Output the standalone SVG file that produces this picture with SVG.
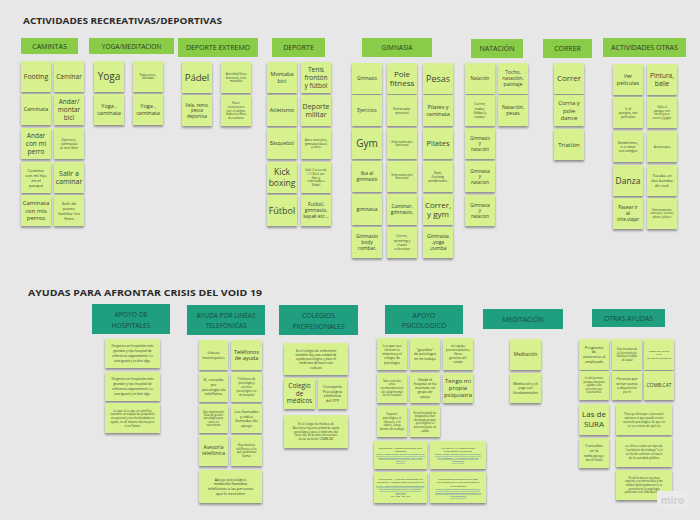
<svg xmlns="http://www.w3.org/2000/svg" width="700" height="520" viewBox="0 0 700 520">
<defs>
<filter id="sh" x="-20%" y="-20%" width="140%" height="150%">
<feDropShadow dx="0" dy="1.8" stdDeviation="1" flood-color="#2a2a2a" flood-opacity="0.5"/>
</filter>
<style>
text{font-family:"Open Sans","Liberation Sans",sans-serif;text-anchor:middle;fill:#3b4333}
.n{fill:#d6f18d;filter:url(#sh)}
.h{fill:#88cc48}
.t{fill:#1f9e80}
.ht{font-size:7px;fill:#2c3a22}
.tt{font-size:6.8px;fill:#164c3e}
.ti{font-size:9.5px;font-weight:700;text-anchor:start;fill:#2b2b2b}
.lk{fill:#2b5fb4;text-decoration:underline}
</style>
</defs>
<rect width="700" height="520" fill="#e7e7e7"/>

<!-- section titles -->
<text class="ti" x="23" y="24" textLength="199" lengthAdjust="spacingAndGlyphs">ACTIVIDADES RECREATIVAS/DEPORTIVAS</text>
<text class="ti" x="28" y="296" textLength="234" lengthAdjust="spacingAndGlyphs">AYUDAS PARA AFRONTAR CRISIS DEL VOID 19</text>

<!-- green category headers -->
<g id="h-camintas"><rect class="h" x="21" y="38" width="57" height="16"/><text class="ht" x="49.5" y="48.5" font-size="6.5">CAMINTAS</text></g>
<g id="h-yoga"><rect class="h" x="89" y="38" width="85" height="16"/><text class="ht" x="131.5" y="48.5" style="font-size:6.5px">YOGA/MEDITACION</text></g>
<g id="h-extremo"><rect class="h" x="178" y="38" width="80" height="19"/><text class="ht" x="218" y="50">DEPORTE EXTREMO</text></g>
<g id="h-deporte"><rect class="h" x="272" y="38" width="53" height="19"/><text class="ht" x="298.5" y="50">DEPORTE</text></g>
<g id="h-gimnasia"><rect class="h" x="362" y="38" width="70" height="19"/><text class="ht" x="397" y="50" style="font-size:6.5px">GIMNASIA</text></g>
<g id="h-natacion"><rect class="h" x="471" y="39" width="52" height="19"/><text class="ht" x="497" y="51">NATACIÓN</text></g>
<g id="h-correr"><rect class="h" x="543" y="39" width="49" height="19"/><text class="ht" x="567.5" y="51">CORRER</text></g>
<g id="h-otras"><rect class="h" x="603" y="38" width="83" height="19"/><text class="ht" x="644.5" y="50">ACTIVIDADES OTRAS</text></g>

<!-- Caminatas -->
<g id="cam-footing" transform="translate(21,61)"><rect class="n" width="30" height="31"/><text x="15" y="18" font-size="7">Footing</text></g>
<g id="cam-caminar" transform="translate(54,61)"><rect class="n" width="30" height="31"/><text x="15" y="17.8" font-size="6.5">Caminar</text></g>
<g id="cam-caminata" transform="translate(21,94)"><rect class="n" width="30" height="31"/><text x="15" y="17.4" font-size="5.5">Caminata</text></g>
<g id="cam-bici" transform="translate(54,94)"><rect class="n" width="30" height="31"/><text x="15" y="10" font-size="6.5">Andar/<tspan x="15" dy="7.8">montar</tspan><tspan x="15" dy="7.8">bici</tspan></text></g>
<g id="cam-perro" transform="translate(21,128)"><rect class="n" width="30" height="31"/><text x="15" y="10" font-size="6.5">Andar<tspan x="15" dy="7.8">con mi</tspan><tspan x="15" dy="7.8">perro</tspan></text></g>
<g id="cam-ejercicio" transform="translate(54,128)"><rect class="n" width="30" height="31"/><text x="15" y="12.5" font-size="3.5">Ejercicio,<tspan x="15" dy="4.2">caminatas</tspan><tspan x="15" dy="4.2">al aire libre</tspan></text></g>
<g id="cam-hijo" transform="translate(21,162)"><rect class="n" width="30" height="31"/><text x="15" y="9.5" font-size="4.2">Caminar<tspan x="15" dy="5">con mi hijo</tspan><tspan x="15" dy="5">en el</tspan><tspan x="15" dy="5">parque</tspan></text></g>
<g id="cam-salir" transform="translate(54,162)"><rect class="n" width="30" height="31"/><text x="15" y="13.75" font-size="7">Salir a<tspan x="15" dy="8.4">caminar</tspan></text></g>
<g id="cam-perros" transform="translate(21,195)"><rect class="n" width="30" height="31"/><text x="15" y="10.4" font-size="6">Caminata<tspan x="15" dy="7.2">con mis</tspan><tspan x="15" dy="7.2">perros</tspan></text></g>
<g id="cam-paseo" transform="translate(54,195)"><rect class="n" width="30" height="31"/><text x="15" y="9.5" font-size="4.2">Salir de<tspan x="15" dy="5">paseo</tspan><tspan x="15" dy="5">familiar los</tspan><tspan x="15" dy="5">fines</tspan></text></g>

<!-- Yoga / meditación -->
<g id="yoga-1" transform="translate(94,61)"><rect class="n" width="30" height="31"/><text x="15" y="19" font-size="10">Yoga</text></g>
<g id="yoga-2" transform="translate(133,61)"><rect class="n" width="30" height="31"/><text x="15" y="14.7" font-size="3">Yoga,correr,<tspan x="15" dy="3.6">escalada</tspan></text></g>
<g id="yoga-3" transform="translate(94,94)"><rect class="n" width="30" height="31"/><text x="15" y="14.1" font-size="5.5">Yoga ,<tspan x="15" dy="6.6">caminata</tspan></text></g>
<g id="yoga-4" transform="translate(133,94)"><rect class="n" width="30" height="31"/><text x="15" y="14.1" font-size="5.5">Yoga ,<tspan x="15" dy="6.6">caminata</tspan></text></g>

<!-- Deporte extremo -->
<g id="ext-padel" transform="translate(182,62)"><rect class="n" width="30" height="31"/><text x="15" y="18.8" font-size="9.5">Pádel</text></g>
<g id="ext-funcional" transform="translate(221,62)"><rect class="n" width="30" height="31"/><text x="15" y="12.9" font-size="3">Actividad física<tspan x="15" dy="3.6">funcional, ciclo</tspan><tspan x="15" dy="3.6">montaña</tspan></text></g>
<g id="ext-vela" transform="translate(182,95)"><rect class="n" width="30" height="31"/><text x="15" y="11.7" font-size="4.5">Vela, remo,<tspan x="15" dy="5.4">pesca</tspan><tspan x="15" dy="5.4">deportiva</tspan></text></g>
<g id="ext-excursiones" transform="translate(221,95)"><rect class="n" width="30" height="31"/><text x="15" y="9.3" font-size="3">Hacer<tspan x="15" dy="3.6">excursiones</tspan><tspan x="15" dy="3.6">por el campo</tspan><tspan x="15" dy="3.6">todos los fines</tspan><tspan x="15" dy="3.6">de semana</tspan></text></g>

<!-- Deporte -->
<g id="dep-bici" transform="translate(267,62)"><rect class="n" width="30" height="31"/><text x="15" y="14.1" font-size="5.5">Montaba<tspan x="15" dy="6.6">bici</tspan></text></g>
<g id="dep-tenis" transform="translate(301,62)"><rect class="n" width="30" height="31"/><text x="15" y="10" font-size="6.5">Tenis<tspan x="15" dy="7.8">frontón</tspan><tspan x="15" dy="7.8">y fútbol</tspan></text></g>
<g id="dep-atletismo" transform="translate(267,95)"><rect class="n" width="30" height="31"/><text x="15" y="17.4" font-size="5.5">Atletismo</text></g>
<g id="dep-militar" transform="translate(301,95)"><rect class="n" width="30" height="31"/><text x="15" y="13.75" font-size="7">Deporte<tspan x="15" dy="8.4">militar</tspan></text></g>
<g id="dep-basquet" transform="translate(267,128)"><rect class="n" width="30" height="31"/><text x="15" y="17.1" font-size="4.5">Básquetbol</text></g>
<g id="dep-artes" transform="translate(301,128)"><rect class="n" width="30" height="31"/><text x="15" y="12.9" font-size="3">Artes marciales,<tspan x="15" dy="3.6">gimnasio/clases</tspan><tspan x="15" dy="3.6">y otros</tspan></text></g>
<g id="dep-kick" transform="translate(267,162)"><rect class="n" width="30" height="31"/><text x="15" y="13.4" font-size="8.5">Kick<tspan x="15" dy="10.2">boxing</tspan></text></g>
<g id="dep-salir" transform="translate(301,162)"><rect class="n" width="30" height="31"/><text x="15" y="9.3" font-size="3">Salir 2 veces de<tspan x="15" dy="3.6">1-1:30 al aire</tspan><tspan x="15" dy="3.6">libre y</tspan><tspan x="15" dy="3.6">entrenaba a</tspan><tspan x="15" dy="3.6">fútbol</tspan></text></g>
<g id="dep-futbol" transform="translate(267,195)"><rect class="n" width="30" height="31"/><text x="15" y="18.7" font-size="9">Fútbol</text></g>
<g id="dep-kayak" transform="translate(301,195)"><rect class="n" width="30" height="31"/><text x="15" y="11.25" font-size="5">Futbol,<tspan x="15" dy="6">gimnasio,</tspan><tspan x="15" dy="6">kayak etc...</tspan></text></g>

<!-- Gimnasia -->
<g id="gim-gimnasio" transform="translate(352,63)"><rect class="n" width="30" height="31"/><text x="15" y="17.1" font-size="4.5">Gimnasio</text></g>
<g id="gim-pole" transform="translate(387,63)"><rect class="n" width="30" height="31"/><text x="15" y="13.5" font-size="8">Pole<tspan x="15" dy="9.6">fitness</tspan></text></g>
<g id="gim-pesas" transform="translate(423,63)"><rect class="n" width="30" height="31"/><text x="15" y="18.7" font-size="9">Pesas</text></g>
<g id="gim-ejercicios" transform="translate(352,95)"><rect class="n" width="30" height="31"/><text x="15" y="17.1" font-size="4.5">Ejercicios</text></g>
<g id="gim-entrenador" transform="translate(387,95)"><rect class="n" width="30" height="31"/><text x="15" y="14.7" font-size="3.3">Entrenador<tspan x="15" dy="4">personal</tspan></text></g>
<g id="gim-pilates-cam" transform="translate(423,95)"><rect class="n" width="30" height="31"/><text x="15" y="14.1" font-size="5.5">Pilates y<tspan x="15" dy="6.6">caminata</tspan></text></g>
<g id="gim-gym" transform="translate(352,128)"><rect class="n" width="30" height="31"/><text x="15" y="19" font-size="10">Gym</text></g>
<g id="gim-funcional-1" transform="translate(387,128)"><rect class="n" width="30" height="31"/><text x="15" y="14.7" font-size="3">Entrenamiento<tspan x="15" dy="3.6">funcional</tspan></text></g>
<g id="gim-pilates" transform="translate(423,128)"><rect class="n" width="30" height="31"/><text x="15" y="18.1" font-size="7.5">Pilates</text></g>
<g id="gim-iba" transform="translate(352,161)"><rect class="n" width="30" height="31"/><text x="15" y="14.25" font-size="5">Iba al<tspan x="15" dy="6">gimnasio</tspan></text></g>
<g id="gim-funcional-2" transform="translate(387,161)"><rect class="n" width="30" height="31"/><text x="15" y="14.7" font-size="3">Entrenamiento<tspan x="15" dy="3.6">funcional</tspan></text></g>
<g id="gim-footing" transform="translate(423,161)"><rect class="n" width="30" height="31"/><text x="15" y="12.5" font-size="3.5">Gym,<tspan x="15" dy="4.2">Footing,</tspan><tspan x="15" dy="4.2">senderismo.</tspan></text></g>
<g id="gim-gimnasia" transform="translate(352,194)"><rect class="n" width="30" height="31"/><text x="15" y="17.25" font-size="5">gimnasia</text></g>
<g id="gim-caminar" transform="translate(387,194)"><rect class="n" width="30" height="31"/><text x="15" y="14.25" font-size="5">Caminar,<tspan x="15" dy="6">gimnasio.</tspan></text></g>
<g id="gim-correr" transform="translate(423,194)"><rect class="n" width="30" height="31"/><text x="15" y="13.5" font-size="8">Correr,<tspan x="15" dy="9.6">y gym</tspan></text></g>
<g id="gim-combat" transform="translate(352,227)"><rect class="n" width="30" height="31"/><text x="15" y="11.25" font-size="5">Gimnasio<tspan x="15" dy="6">body</tspan><tspan x="15" dy="6">combat.</tspan></text></g>
<g id="gim-spinning" transform="translate(387,227)"><rect class="n" width="30" height="31"/><text x="15" y="10.4" font-size="3.5">Correr,<tspan x="15" dy="4.2">spinning y</tspan><tspan x="15" dy="4.2">clases</tspan><tspan x="15" dy="4.2">colectivas</tspan></text></g>
<g id="gim-zumba" transform="translate(423,227)"><rect class="n" width="30" height="31"/><text x="15" y="11.25" font-size="5">Gimnasia<tspan x="15" dy="6">,yoga</tspan><tspan x="15" dy="6">,zumba</tspan></text></g>

<!-- Natación -->
<g id="nat-natacion" transform="translate(465,63)"><rect class="n" width="30" height="31"/><text x="15" y="17.1" font-size="4.5">Natación</text></g>
<g id="nat-tocho" transform="translate(498,63)"><rect class="n" width="30" height="31"/><text x="15" y="11.25" font-size="5">Tocho,<tspan x="15" dy="6">natación,</tspan><tspan x="15" dy="6">patinaje</tspan></text></g>
<g id="nat-nadar" transform="translate(465,95)"><rect class="n" width="30" height="31"/><text x="15" y="10.4" font-size="3.5">Correr,<tspan x="15" dy="4.2">nadar,</tspan><tspan x="15" dy="4.2">fútbol y</tspan><tspan x="15" dy="4.2">cantar.</tspan></text></g>
<g id="nat-pesas" transform="translate(498,95)"><rect class="n" width="30" height="31"/><text x="15" y="14.25" font-size="5">Natación,<tspan x="15" dy="6">pesas</tspan></text></g>
<g id="nat-gim-1" transform="translate(465,128)"><rect class="n" width="30" height="31"/><text x="15" y="11.7" font-size="4.5">Gimnasio<tspan x="15" dy="5.4">y</tspan><tspan x="15" dy="5.4">natación</tspan></text></g>
<g id="nat-gim-2" transform="translate(465,161)"><rect class="n" width="30" height="31"/><text x="15" y="11.7" font-size="4.5">Gimnasia<tspan x="15" dy="5.4">y</tspan><tspan x="15" dy="5.4">natacion</tspan></text></g>
<g id="nat-gim-3" transform="translate(465,195)"><rect class="n" width="30" height="31"/><text x="15" y="11.7" font-size="4.5">Gimnasia<tspan x="15" dy="5.4">y</tspan><tspan x="15" dy="5.4">natacion</tspan></text></g>

<!-- Correr -->
<g id="cor-correr" transform="translate(554,63)"><rect class="n" width="30" height="31"/><text x="15" y="18.3" font-size="8">Correr</text></g>
<g id="cor-pole" transform="translate(554,95)"><rect class="n" width="30" height="31"/><text x="15" y="10.4" font-size="6">Corria y<tspan x="15" dy="7.2">pole</tspan><tspan x="15" dy="7.2">dance</tspan></text></g>
<g id="cor-triatlon" transform="translate(554,129)"><rect class="n" width="30" height="31"/><text x="15" y="17.6" font-size="6">Triatlón</text></g>

<!-- Actividades otras -->
<g id="otr-peliculas" transform="translate(613,64)"><rect class="n" width="30" height="31"/><text x="15" y="14.1" font-size="5.5">Ver<tspan x="15" dy="6.6">películas</tspan></text></g>
<g id="otr-pintura" transform="translate(647,64)"><rect class="n" width="30" height="31"/><text x="15" y="13.9" font-size="6.5">Pintura,<tspan x="15" dy="7.8">baile</tspan></text></g>
<g id="otr-parque" transform="translate(613,97)"><rect class="n" width="30" height="31"/><text x="15" y="12.5" font-size="3.5">Ir al<tspan x="15" dy="4.2">parque, ver</tspan><tspan x="15" dy="4.2">películas</tspan></text></g>
<g id="otr-hijos" transform="translate(647,97)"><rect class="n" width="30" height="31"/><text x="15" y="11.1" font-size="3">Salía al<tspan x="15" dy="3.6">parque con</tspan><tspan x="15" dy="3.6">mis hijos a</tspan><tspan x="15" dy="3.6">correr y jugar</tspan></text></g>
<g id="otr-senderismo" transform="translate(613,131)"><rect class="n" width="30" height="31"/><text x="15" y="12.5" font-size="3.5">Senderismo,<tspan x="15" dy="4.2">ir a cenar</tspan><tspan x="15" dy="4.2">con amigos</tspan></text></g>
<g id="otr-acro" transform="translate(647,131)"><rect class="n" width="30" height="31"/><text x="15" y="16.5" font-size="3">Acroterapia</text></g>
<g id="otr-danza" transform="translate(613,165)"><rect class="n" width="30" height="31"/><text x="15" y="18.5" font-size="8.5">Danza</text></g>
<g id="otr-rock" transform="translate(647,165)"><rect class="n" width="30" height="31"/><text x="15" y="12.1" font-size="4">Tocaba en<tspan x="15" dy="4.8">dos bandas</tspan><tspan x="15" dy="4.8">de rock</tspan></text></g>
<g id="otr-pasear" transform="translate(613,198)"><rect class="n" width="30" height="31"/><text x="15" y="11.4" font-size="4.8">Pasear ir<tspan x="15" dy="5.8">al</tspan><tspan x="15" dy="5.8">cine,viajar</tspan></text></g>
<g id="otr-entreno" transform="translate(647,198)"><rect class="n" width="30" height="31"/><text x="15" y="13" font-size="2.8">Entrenamiento<tspan x="15" dy="3.4">semi-pro, servicio,</tspan><tspan x="15" dy="3.4">planes, pilates</tspan></text></g>

<!-- teal category headers -->
<g id="h-hospitales"><rect class="t" x="92" y="304" width="78" height="30"/><text class="tt" x="131" y="317">APOYO DE<tspan x="131" dy="10.5">HOSPITALES</tspan></text></g>
<g id="h-telefonicas"><rect class="t" x="187" y="305" width="78" height="30"/><text class="tt" x="226" y="318" style="font-size:6.5px">AYUDA POR LINEAS<tspan x="226" dy="10">TELEFONICAS</tspan></text></g>
<g id="h-colegios"><rect class="t" x="279" y="305" width="79" height="30"/><text class="tt" x="318.5" y="318">COLEGIOS<tspan x="318.5" dy="10.5">PROFESIONALES</tspan></text></g>
<g id="h-psicologico"><rect class="t" x="385" y="305" width="78" height="29"/><text class="tt" x="424" y="317.5">APOYO<tspan x="424" dy="10.5">PSICOLOGICO</tspan></text></g>
<g id="h-meditacion"><rect class="t" x="483" y="309" width="80" height="20"/><text class="tt" x="523" y="321.5">MEDITACIÓN</text></g>
<g id="h-otras-ayudas"><rect class="t" x="592" y="309" width="73" height="18"/><text class="tt" x="628.5" y="320.5">OTRAS AYUDAS</text></g>

<!-- Apoyo de hospitales -->
<g id="hos-1" transform="translate(105,339)"><rect class="n" width="55" height="29"/><text x="27.5" y="8.4" font-size="3.2">De gestos en hospitales más<tspan x="27.5" dy="4.8">grandes y tipo hospital de</tspan><tspan x="27.5" dy="4.8">referencia seguramente. Lo</tspan><tspan x="27.5" dy="4.8">averiguaré y te diré algo.</tspan></text></g>
<g id="hos-2" transform="translate(105,372)"><rect class="n" width="55" height="29"/><text x="27.5" y="8.4" font-size="3.2">De gestos en hospitales más<tspan x="27.5" dy="4.8">grandes y tipo hospital de</tspan><tspan x="27.5" dy="4.8">referencia seguramente. Lo</tspan><tspan x="27.5" dy="4.8">averiguaré y te diré algo.</tspan></text></g>
<g id="hos-3" transform="translate(105,403)"><rect class="n" width="55" height="30"/><text x="27.5" y="8.5" font-size="2.8">Lo que sé es que en sant Pau<tspan x="27.5" dy="3.8">tenemos un equipo de psiquiatría</tspan><tspan x="27.5" dy="3.8">excepcional y nos ha brindado su</tspan><tspan x="27.5" dy="3.8">ayuda, no de manera directa pero</tspan><tspan x="27.5" dy="3.8">sí en Twitter</tspan></text></g>

<!-- Ayuda por líneas telefónicas -->
<g id="tel-municipales" transform="translate(199,340)"><rect class="n" width="29" height="30"/><text x="14.5" y="14" font-size="4">Líneas<tspan x="14.5" dy="4.8">municipales</tspan></text></g>
<g id="tel-ayuda" transform="translate(231,340)"><rect class="n" width="31" height="30"/><text x="15.5" y="13.6" font-size="5.5">Teléfonos<tspan x="15.5" dy="6.6">de ayuda</tspan></text></g>
<g id="tel-consulta" transform="translate(199,372)"><rect class="n" width="29" height="30"/><text x="14.5" y="9.4" font-size="3.8">Si, consulta<tspan x="14.5" dy="4.6">por</tspan><tspan x="14.5" dy="4.6">psicología vía</tspan><tspan x="14.5" dy="4.6">telefónica</tspan></text></g>
<g id="tel-hospital" transform="translate(231,372)"><rect class="n" width="31" height="30"/><text x="15.5" y="8.4" font-size="3">Teléfonos de<tspan x="15.5" dy="3.8">psicología y</tspan><tspan x="15.5" dy="3.8">servicio</tspan><tspan x="15.5" dy="3.8">psicológico en</tspan><tspan x="15.5" dy="3.8">mi hospital</tspan></text></g>
<g id="tel-cuarentena" transform="translate(199,404)"><rect class="n" width="29" height="29"/><text x="14.5" y="8.8" font-size="2.6">Que implementó<tspan x="14.5" dy="3.3">línea de gestión</tspan><tspan x="14.5" dy="3.3">psicológica para</tspan><tspan x="14.5" dy="3.3">casos en</tspan><tspan x="14.5" dy="3.3">cuarentena</tspan></text></g>
<g id="tel-llamadas" transform="translate(231,404)"><rect class="n" width="31" height="29"/><text x="15.5" y="8.7" font-size="4">Las llamadas<tspan x="15.5" dy="4.8">y video</tspan><tspan x="15.5" dy="4.8">llamadas de</tspan><tspan x="15.5" dy="4.8">apoyo</tspan></text></g>
<g id="tel-asesoria" transform="translate(199,435)"><rect class="n" width="29" height="31"/><text x="14.5" y="14.25" font-size="5">Asesoría<tspan x="14.5" dy="6">telefónica</tspan></text></g>
<g id="tel-muchos" transform="translate(231,435)"><rect class="n" width="31" height="31"/><text x="15.5" y="10.8" font-size="3">Hay muchos<tspan x="15.5" dy="3.8">teléfonos a los</tspan><tspan x="15.5" dy="3.8">que podemos</tspan><tspan x="15.5" dy="3.8">llamar</tspan></text></g>
<g id="tel-apoyo" transform="translate(199,470)"><rect class="n" width="63" height="33"/><text x="31.5" y="10.6" font-size="3.8">Apoyo psicológico<tspan x="31.5" dy="4.8">mediante llamadas</tspan><tspan x="31.5" dy="4.8">telefónicas a las personas</tspan><tspan x="31.5" dy="4.8">que lo necesiten</tspan></text></g>

<!-- Colegios profesionales -->
<g id="col-enfermeria" transform="translate(284,343)"><rect class="n" width="64" height="32"/><text x="32" y="8.5" font-size="3.2">En el colegio de enfermería<tspan x="32" dy="4.3">también hay una unidad de</tspan><tspan x="32" dy="4.3">ayuda psicológica y para el</tspan><tspan x="32" dy="4.3">síndrome del burn out:</tspan><tspan x="32" dy="4.3">coib.cat</tspan></text></g>
<g id="col-medicos" transform="translate(284,378)"><rect class="n" width="31" height="31"/><text x="15.5" y="10.2" font-size="6.5">Colegio<tspan x="15.5" dy="7.6">de</tspan><tspan x="15.5" dy="7.6">médicos</tspan></text></g>
<g id="col-cpp" transform="translate(318,378)"><rect class="n" width="29" height="31"/><text x="14.5" y="9.9" font-size="3.8">Consejería<tspan x="14.5" dy="4.6">Psicológica</tspan><tspan x="14.5" dy="4.6">telefónica</tspan><tspan x="14.5" dy="4.6">del CPP</tspan></text></g>
<g id="col-barcelona" transform="translate(284,415)"><rect class="n" width="64" height="33"/><text x="32" y="10.3" font-size="2.8">En el colegio de médicos de<tspan x="32" dy="3.6">Barcelona hay una unidad de ayuda</tspan><tspan x="32" dy="3.6">psicológica y para el síndrome del</tspan><tspan x="32" dy="3.6">burn out, de pronto ofrecuestan</tspan><tspan x="32" dy="3.6">vía de atención: COMB.CAT</tspan></text></g>

<!-- Apoyo psicológico -->
<g id="psi-empresa" transform="translate(377,338)"><rect class="n" width="30" height="32"/><text x="15" y="8.8" font-size="3.3">Los que nos<tspan x="15" dy="4.2">ofrecen la</tspan><tspan x="15" dy="4.2">empresa y el</tspan><tspan x="15" dy="4.2">colegio de</tspan><tspan x="15" dy="4.2">psicólogos</tspan></text></g>
<g id="psi-guardias" transform="translate(410,338)"><rect class="n" width="30" height="32"/><text x="15" y="12.8" font-size="3.5">"guardias"<tspan x="15" dy="4.4">de psicólogos</tspan><tspan x="15" dy="4.4">en mi trabajo</tspan></text></g>
<g id="psi-equipo" transform="translate(443,338)"><rect class="n" width="30" height="32"/><text x="15" y="9.2" font-size="3">mi equipo<tspan x="15" dy="3.9">psicoterapéutico,</tspan><tspan x="15" dy="3.9">libros</tspan><tspan x="15" dy="3.9">gratuitos del</tspan><tspan x="15" dy="3.9">estado</tspan></text></g>
<g id="psi-sitio" transform="translate(377,373)"><rect class="n" width="30" height="30"/><text x="15" y="8.8" font-size="2.8">Sitio concreto<tspan x="15" dy="3.6">unas</tspan><tspan x="15" dy="3.6">recomendaciones</tspan><tspan x="15" dy="3.6">de salud mental</tspan><tspan x="15" dy="3.6">de mi hospital</tspan></text></g>
<g id="psi-grupo" transform="translate(410,373)"><rect class="n" width="30" height="30"/><text x="15" y="7.8" font-size="3.5">Desde el<tspan x="15" dy="4.2">hospital se ha</tspan><tspan x="15" dy="4.2">montado un</tspan><tspan x="15" dy="4.2">grupo de</tspan><tspan x="15" dy="4.2">apoyo</tspan></text></g>
<g id="psi-psiquiatra" transform="translate(443,373)"><rect class="n" width="30" height="30"/><text x="15" y="10.1" font-size="6">Tengo mi<tspan x="15" dy="7">propia</tspan><tspan x="15" dy="7">psiquiatra</tspan></text></g>
<g id="psi-soporte" transform="translate(377,406)"><rect class="n" width="30" height="31"/><text x="15" y="8.7" font-size="3">Soporte<tspan x="15" dy="3.9">psicológico si</tspan><tspan x="15" dy="3.9">ofrecen, a lo</tspan><tspan x="15" dy="3.9">sabés, estoy</tspan><tspan x="15" dy="3.9">dentro de trabajo</tspan></text></g>
<g id="psi-psiquiatras" transform="translate(410,406)"><rect class="n" width="30" height="31"/><text x="15" y="7.5" font-size="2.8">En mi hospital los<tspan x="15" dy="3.6">psiquiatras han</tspan><tspan x="15" dy="3.6">montado grupos</tspan><tspan x="15" dy="3.6">psicológicos al</tspan><tspan x="15" dy="3.6">personal para su</tspan><tspan x="15" dy="3.6">salida</tspan></text></g>
<g id="psi-telefono" transform="translate(374,441)"><rect class="n" width="53" height="28"/><text x="26.5" y="7.5" font-size="2.5">Teléfono de Atención Telefónica de la<tspan x="26.5" dy="3.4">Psicología</tspan><tspan class="lk" x="26.5" dy="3.4">https://www.gencat.cat/salut/coronavirus/</tspan><tspan class="lk" x="26.5" dy="3.4">atencio-psicologica-telefon-1234-5678</tspan><tspan class="lk" x="26.5" dy="3.4">-covid19</tspan></text></g>
<g id="psi-covid" transform="translate(430,441)"><rect class="n" width="56" height="28"/><text x="28" y="7.5" font-size="2.5">VID COVID-19: ¿Cómo se está<tspan x="28" dy="3.4">afrontando la ayuda por</tspan><tspan class="lk" x="28" dy="3.4">https://www.infocop.es/view_article.asp</tspan><tspan class="lk" x="28" dy="3.4">?id=8630&amp;cat=47 Colegio Oficial de</tspan><tspan class="lk" x="28" dy="3.4">Psicólogos</tspan></text></g>
<g id="psi-poblacion" transform="translate(374,472)"><rect class="n" width="53" height="31"/><text x="26.5" y="8" font-size="2.5">Habilitación / Atención Psicológica a la<tspan x="26.5" dy="3.4">Población y Personal Sanitario (Covid-19)</tspan><tspan class="lk" x="26.5" dy="3.4">https://www.consejogeneralpsicologia.es/</tspan><tspan class="lk" x="26.5" dy="3.4">ayuda-psicologica-covid19-personal-</tspan><tspan class="lk" x="26.5" dy="3.4">sanitario</tspan><tspan x="26.5" dy="3.4">Tel. 900 123 456</tspan></text></g>
<g id="psi-profesionales" transform="translate(430,472)"><rect class="n" width="56" height="31"/><text x="28" y="8" font-size="2.5">Más atención de apoyo en la línea<tspan x="28" dy="3.4">del coronavirus y a los profesionales</tspan><tspan x="28" dy="3.4">de la sanidad</tspan><tspan class="lk" x="28" dy="3.4">https://www.infosalud.es/coronavirus/</tspan><tspan class="lk" x="28" dy="3.4">apoyo-profesionales-sanitarios-covid19</tspan><tspan class="lk" x="28" dy="3.4">profesionales</tspan></text></g>

<!-- Meditación -->
<g id="med-1" transform="translate(510,339)"><rect class="n" width="31" height="31"/><text x="15.5" y="17.1" font-size="4.5">Meditación</text></g>
<g id="med-2" transform="translate(510,373)"><rect class="n" width="31" height="30"/><text x="15.5" y="11.8" font-size="3.5">Meditación y el<tspan x="15.5" dy="4.4">yoga son</tspan><tspan x="15.5" dy="4.4">fundamentales</tspan></text></g>

<!-- Otras ayudas -->
<g id="oa-programa" transform="translate(579,339)"><rect class="n" width="30" height="31"/><text x="15" y="9.55" font-size="4">Programa<tspan x="15" dy="4.9">de</tspan><tspan x="15" dy="4.9">asistencia al</tspan><tspan x="15" dy="4.9">empleado</tspan></text></g>
<g id="oa-iniciativa" transform="translate(612,339)"><rect class="n" width="30" height="31"/><text x="15" y="11.2" font-size="2.7">Una iniciativa de<tspan x="15" dy="3.5">la Secretaría de</tspan><tspan x="15" dy="3.5">Salud por hablar</tspan><tspan x="15" dy="3.5">de salud</tspan></text></g>
<g id="oa-consultas" transform="translate(644,339)"><rect class="n" width="30" height="31"/><text x="15" y="13" font-size="2.4">Consultas y ayuda<tspan x="15" dy="3.3">en el</tspan><tspan x="15" dy="3.3">Col·legi de Infermeres</tspan></text></g>
<g id="oa-permiso" transform="translate(579,371)"><rect class="n" width="30" height="29"/><text x="15" y="8.4" font-size="2.7">Lo del permiso<tspan x="15" dy="3.5">porque una para</tspan><tspan x="15" dy="3.5">ayudar a las</tspan><tspan x="15" dy="3.5">personas por</tspan><tspan x="15" dy="3.5">coronavirus</tspan></text></g>
<g id="oa-personas" transform="translate(612,371)"><rect class="n" width="30" height="29"/><text x="15" y="9.4" font-size="3.3">Personas que<tspan x="15" dy="4.2">se han puesto</tspan><tspan x="15" dy="4.2">a disposición</tspan><tspan x="15" dy="4.2">por ti</tspan></text></g>
<g id="oa-comb" transform="translate(644,371)"><rect class="n" width="30" height="29"/><text x="15" y="16.25" font-size="5">COMB.CAT</text></g>
<g id="oa-sura" transform="translate(579,404)"><rect class="n" width="30" height="31"/><text x="15" y="13.3" font-size="8">Las de<tspan x="15" dy="10">SURA</tspan></text></g>
<g id="oa-sanitario" transform="translate(616,404)"><rect class="n" width="56" height="31"/><text x="28" y="10.5" font-size="2.9">Pues yo diría que el personal<tspan x="28" dy="4">sanitario sí que puedes tener</tspan><tspan x="28" dy="4">atención psicológica. Es que no</tspan><tspan x="28" dy="4">sé es a través de qué vía</tspan></text></g>
<g id="oa-web" transform="translate(579,438)"><rect class="n" width="30" height="30"/><text x="15" y="9.4" font-size="3.8">Consultas<tspan x="15" dy="4.6">en la</tspan><tspan x="15" dy="4.6">web,apoyo</tspan><tspan x="15" dy="4.6">en el hsal</tspan></text></g>
<g id="oa-accidente" transform="translate(616,437)"><rect class="n" width="56" height="30"/><text x="28" y="9.95" font-size="3.1">se ofrece como un tipo de<tspan x="28" dy="4.1">"accidente de trabajo" o si</tspan><tspan x="28" dy="4.1">se ha de solicitar a través</tspan><tspan x="28" dy="4.1">de la sanidad pública</tspan></text></g>
<g id="oa-experta" transform="translate(616,470)"><rect class="n" width="56" height="30"/><text x="28" y="8.6" font-size="2.8">Yo del tema no soy muy<tspan x="28" dy="3.7">experta, soy intensivista y me</tspan><tspan x="28" dy="3.7">dedico (principalmente) a la</tspan><tspan x="28" dy="3.7">atención de la patología</tspan><tspan x="28" dy="3.7">pulmonar con Ltda Barcelona</tspan></text></g>

<!-- board watermark -->
<g id="watermark"><rect x="657" y="491" width="31" height="17" fill="#ebebeb"/><text x="672.5" y="503.5" font-size="10" font-weight="700" style="fill:#cfcfcf">miro</text></g>
</svg>
